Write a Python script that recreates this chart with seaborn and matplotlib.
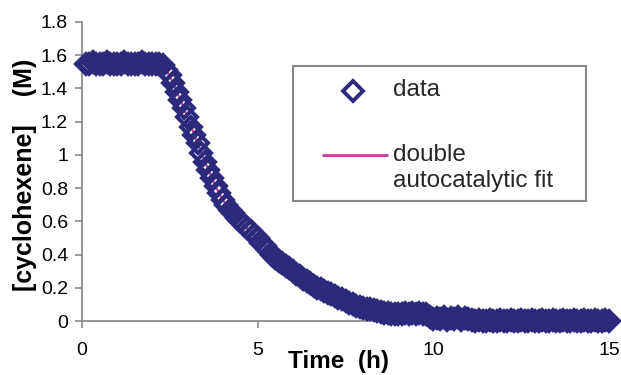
import matplotlib
matplotlib.use("Agg")
import matplotlib.pyplot as plt
import seaborn as sns
from matplotlib.patches import Rectangle
from matplotlib.lines import Line2D

# ---------------- data ----------------
time_h = [
    0.1, 0.2, 0.3, 0.4, 0.5, 0.6, 0.7, 0.8, 0.9, 1.0,
    1.1, 1.2, 1.3, 1.4, 1.5, 1.6, 1.7, 1.8, 1.9, 2.0,
    2.1, 2.2, 2.3, 2.4, 2.5, 2.6, 2.7, 2.8, 2.9, 3.0,
    3.1, 3.2, 3.3, 3.4, 3.5, 3.6, 3.7, 3.8, 3.9, 4.0,
    4.1, 4.2, 4.3, 4.4, 4.5, 4.6, 4.7, 4.8, 4.9, 5.0,
    5.1, 5.2, 5.3, 5.4, 5.5, 5.6, 5.7, 5.8, 5.9, 6.0,
    6.1, 6.2, 6.3, 6.4, 6.5, 6.6, 6.7, 6.8, 6.9, 7.0,
    7.1, 7.2, 7.3, 7.4, 7.5, 7.6, 7.7, 7.8, 7.9, 8.0,
    8.1, 8.2, 8.3, 8.4, 8.5, 8.6, 8.7, 8.8, 8.9, 9.0,
    9.1, 9.2, 9.3, 9.4, 9.5, 9.6, 9.7, 9.8, 9.9, 10.0,
    10.1, 10.2, 10.3, 10.4, 10.5, 10.6, 10.7, 10.8, 10.9, 11.0,
    11.1, 11.2, 11.3, 11.4, 11.5, 11.6, 11.7, 11.8, 11.9, 12.0,
    12.1, 12.2, 12.3, 12.4, 12.5, 12.6, 12.7, 12.8, 12.9, 13.0,
    13.1, 13.2, 13.3, 13.4, 13.5, 13.6, 13.7, 13.8, 13.9, 14.0,
    14.1, 14.2, 14.3, 14.4, 14.5, 14.6, 14.7, 14.8, 14.9, 15.0,
]
cyclohexene_M = [
    1.55, 1.55, 1.56, 1.55, 1.55, 1.55, 1.56, 1.55, 1.55, 1.55,
    1.55, 1.56, 1.55, 1.55, 1.55, 1.55, 1.56, 1.55, 1.55, 1.55,
    1.55, 1.55, 1.54, 1.51, 1.48, 1.43, 1.38, 1.33, 1.28, 1.23,
    1.17, 1.12, 1.07, 1.01, 0.96, 0.91, 0.86, 0.81, 0.77, 0.73,
    0.70, 0.67, 0.65, 0.62, 0.60, 0.58, 0.56, 0.54, 0.52, 0.50,
    0.47, 0.45, 0.43, 0.40, 0.38, 0.36, 0.35, 0.33, 0.32, 0.30,
    0.28, 0.27, 0.25, 0.24, 0.23, 0.21, 0.20, 0.19, 0.18, 0.17,
    0.16, 0.15, 0.14, 0.13, 0.12, 0.11, 0.10, 0.09, 0.085, 0.08,
    0.075, 0.07, 0.065, 0.06, 0.055, 0.05, 0.05, 0.045, 0.045, 0.04,
    0.045, 0.05, 0.045, 0.05, 0.045, 0.05, 0.045, 0.04, 0.025, 0.01,
    0.02, 0.01, 0.025, 0.005, 0.02, 0.01, 0.025, 0.005, 0.02, 0.01,
    0.005, 0.0, 0.005, 0.0, 0.0, 0.005, 0.0, 0.0, 0.005, 0.0,
    0.0, 0.005, 0.0, 0.0, 0.005, 0.0, 0.0, 0.005, 0.0, 0.0,
    0.005, 0.0, 0.0, 0.005, 0.0, 0.0, 0.005, 0.0, 0.0, 0.005,
    0.0, 0.0, 0.005, 0.0, 0.0, 0.005, 0.0, 0.0, 0.005, 0.0,
]
fit_time_h = [0.1, 1.0, 2.0, 2.2, 2.4, 2.6, 2.8, 3.0, 3.2, 3.4, 3.6, 3.8,
              4.0, 4.5, 5.0, 5.5, 6.0, 6.5, 7.0, 7.5, 8.0, 9.0, 10.0,
              11.0, 12.0, 13.0, 14.0, 15.0]
fit_M = [1.55, 1.55, 1.55, 1.55, 1.51, 1.43, 1.33, 1.23, 1.12, 1.01, 0.91,
         0.81, 0.73, 0.60, 0.50, 0.38, 0.30, 0.23, 0.17, 0.12, 0.08, 0.04,
         0.015, 0.005, 0.002, 0.001, 0.0, 0.0]

x_ticks = [0, 5, 10, 15]
y_ticks = [0, 0.2, 0.4, 0.6, 0.8, 1.0, 1.2, 1.4, 1.6, 1.8]
y_tick_labels = ["0", "0.2", "0.4", "0.6", "0.8", "1", "1.2", "1.4", "1.6", "1.8"]
x_label = "Time  (h)"
y_label = "[cyclohexene]    (M)"
legend_labels = ["data", "double\nautocatalytic fit"]

NAVY = "#2D2A7D"
MAGENTA = "#C2409F"
GRAY = "#8C8C8C"

# ---------------- style ----------------
sns.set_theme(style="white")
plt.rcParams["font.family"] = ["Liberation Sans", "DejaVu Sans"]

W, H = 621, 375
fig = plt.figure(figsize=(W / 100, H / 100), dpi=100)
ax = fig.add_axes([82 / W, 54 / H, 527 / W, 299 / H])

sns.lineplot(x=fit_time_h, y=fit_M, ax=ax, color=MAGENTA, linewidth=1.6,
             estimator=None, sort=False, zorder=2)
sns.lineplot(x=time_h, y=cyclohexene_M, ax=ax, estimator=None, sort=False,
             linestyle="none", marker="D", markersize=10.5,
             markerfacecolor="none", markeredgecolor=NAVY,
             markeredgewidth=2.9, clip_on=False, zorder=3)

ax.set_xlim(0, 15)
ax.set_ylim(0, 1.8)
ax.set_xticks(x_ticks)
ax.set_xticklabels([str(v) for v in x_ticks])
ax.set_yticks(y_ticks)
ax.set_yticklabels(y_tick_labels)

sns.despine(ax=ax, top=True, right=True)
for side in ("left", "bottom"):
    ax.spines[side].set_color(GRAY)
    ax.spines[side].set_linewidth(1.3)
    ax.spines[side].set_zorder(1)

ax.tick_params(axis="both", which="major", bottom=True, left=True,
               direction="out", length=5, width=1.2, color=GRAY,
               labelsize=14, labelcolor="black")
ax.tick_params(axis="x", pad=10)
ax.tick_params(axis="y", pad=5)

ax.set_xlabel(x_label, fontsize=17.5, fontweight="bold", color="black")
ax.set_ylabel(y_label, fontsize=18, fontweight="bold", color="black")
ax.xaxis.set_label_coords((339 - 82) / 527, (321 - 350) / 299)
ax.yaxis.set_label_coords((37 - 82) / 527, (321 - 175) / 299)

# ---------------- legend box (manual, Excel-like) ----------------
def fx(px):
    return px / W


def fy(py):
    return (H - py) / H


fig.patches.append(Rectangle((fx(293), fy(201)), fx(586) - fx(293), fy(66) - fy(201),
                             transform=fig.transFigure, fill=False,
                             edgecolor="#888888", linewidth=1.5, zorder=5))
fig.lines.append(Line2D([fx(353)], [fy(91)], transform=fig.transFigure,
                        marker="D", markersize=10, markerfacecolor="none",
                        markeredgecolor=NAVY, markeredgewidth=2.8, linestyle="none"))
fig.lines.append(Line2D([fx(323), fx(387)], [fy(155), fy(155)],
                        transform=fig.transFigure, color=MAGENTA, linewidth=2.0))
fig.text(fx(393), fy(90), legend_labels[0], fontsize=17.5, va="center", ha="left")
fig.text(fx(393), fy(168), legend_labels[1], fontsize=17.5, va="center", ha="left",
         linespacing=1.2)

fig.savefig("out.png", dpi=100)
